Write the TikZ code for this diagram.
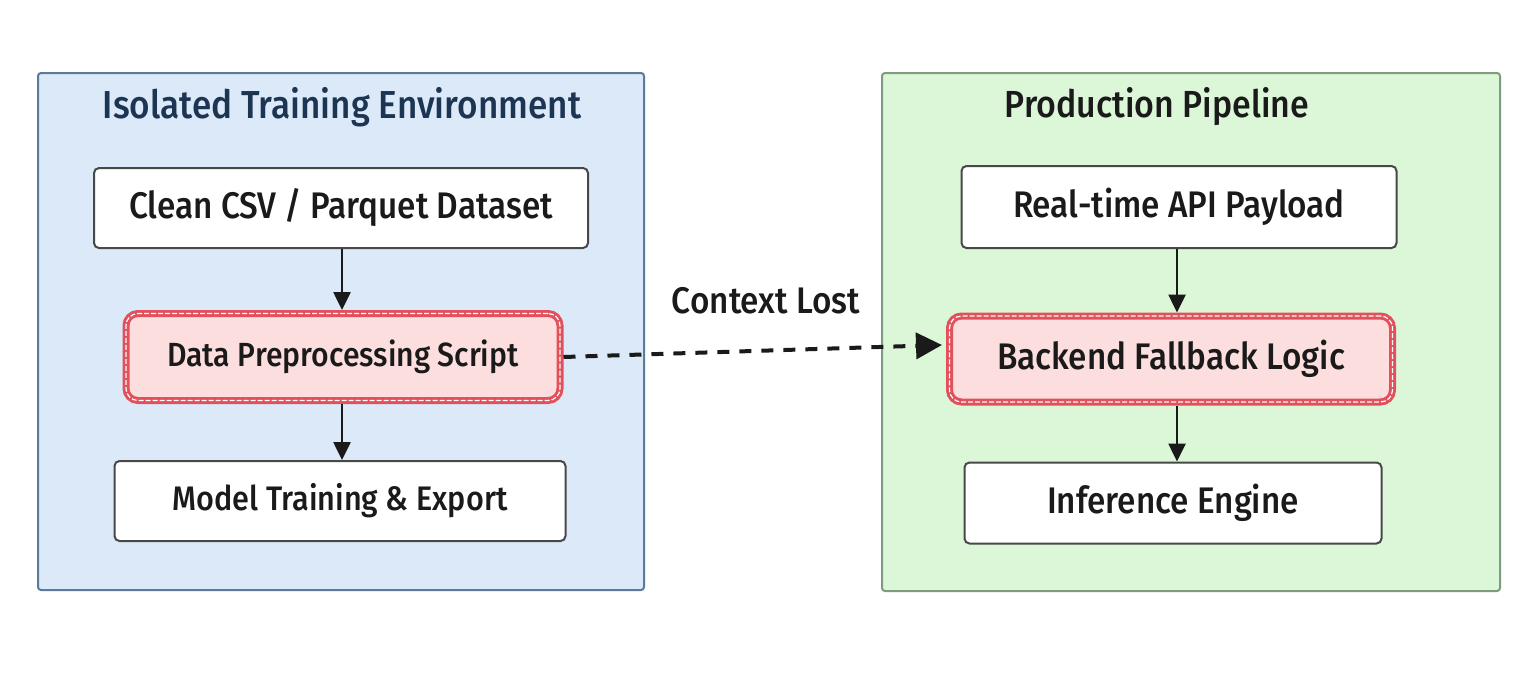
\documentclass[tikz,border=0pt]{standalone}
\usepackage{fontspec}
\usetikzlibrary{arrows.meta}
\newfontfamily\lab{Fira Sans Medium}[FakeStretch=0.9]
\definecolor{bluefill}{HTML}{DCE9F8}
\definecolor{blueedge}{HTML}{5B7A9C}
\definecolor{greenfill}{HTML}{DCF6D8}
\definecolor{greenedge}{HTML}{7E9C80}
\definecolor{navy}{HTML}{1C3552}
\definecolor{redfill}{HTML}{FDDEDE}
\definecolor{rededge}{HTML}{E2505C}
\definecolor{ink}{HTML}{1A1A1A}
\tikzset{
  container/.style={draw, line width=2pt, rounded corners=3pt},
  stepbox/.style={draw=ink!80, line width=2pt, fill=white, rounded corners=5pt, font=\lab\fontsize{37}{42}\selectfont, text=ink},
  hotbox/.style={draw=rededge, line width=7pt, fill=redfill, rounded corners=12pt, font=\lab\fontsize{37}{42}\selectfont, text=ink,
    postaction={draw=white, line width=1.2pt, dash pattern=on 5pt off 2pt}},
  flow/.style={draw=ink, line width=2.6pt, -{Triangle[length=18pt,width=17pt]}},
  lost/.style={draw=ink, line width=4pt, dash pattern=on 12pt off 10pt, -{Triangle[length=26pt,width=26pt]}},
}
\begin{document}
\begin{tikzpicture}[x=1pt,y=-1pt]
\useasboundingbox[fill=white] (0,0) rectangle (1536,694);
% containers
\node[container, draw=blueedge, fill=bluefill, minimum width=606pt, minimum height=517pt, anchor=north west] (env) at (37,72) {};
\node[container, draw=greenedge, fill=greenfill, minimum width=618pt, minimum height=518pt, anchor=north west] (prod) at (881,72) {};
\node[font=\lab\fontsize{39}{44}\selectfont, text=navy] (envt) at (342,107) {Isolated Training Environment};
\node[font=\lab\fontsize{37.7}{43}\selectfont, text=ink] (prodt) at (1157,107) {Production Pipeline};
% left steps
\node[stepbox, minimum width=494pt, minimum height=80pt] (csv) at (341,208) {Clean CSV / Parquet Dataset};
\node[hotbox, minimum width=434pt, minimum height=87pt, font=\lab\fontsize{33.5}{38}\selectfont] (prep) at (343,357) {Data Preprocessing Script};
\node[stepbox, minimum width=451pt, minimum height=80pt, font=\lab\fontsize{34}{39}\selectfont] (train) at (340,501) {Model Training \& Export};
% right steps
\node[stepbox, minimum width=435pt, minimum height=82pt] (api) at (1179,207) {Real-time API Payload};
\node[hotbox, minimum width=443pt, minimum height=86pt] (back) at (1171,359) {Backend Fallback Logic};
\node[stepbox, minimum width=417pt, minimum height=81pt] (inf) at (1173,503) {Inference Engine};
% arrows
\draw[flow] (csv.south -| 342,0) -- (prep.north -| 342,0);
\draw[flow] (prep.south -| 342,0) -- (train.north -| 342,0);
\draw[flow] (api.south -| 1177,0) -- (back.north -| 1177,0);
\draw[flow] (back.south -| 1177,0) -- (inf.north -| 1177,0);
\coordinate (lostend) at (942,345);
\draw[lost] (prep.east) -- (lostend);
\node[font=\lab\fontsize{37}{42}\selectfont, text=ink] (ctx) at (766,301) {Context Lost};
\end{tikzpicture}
\end{document}
